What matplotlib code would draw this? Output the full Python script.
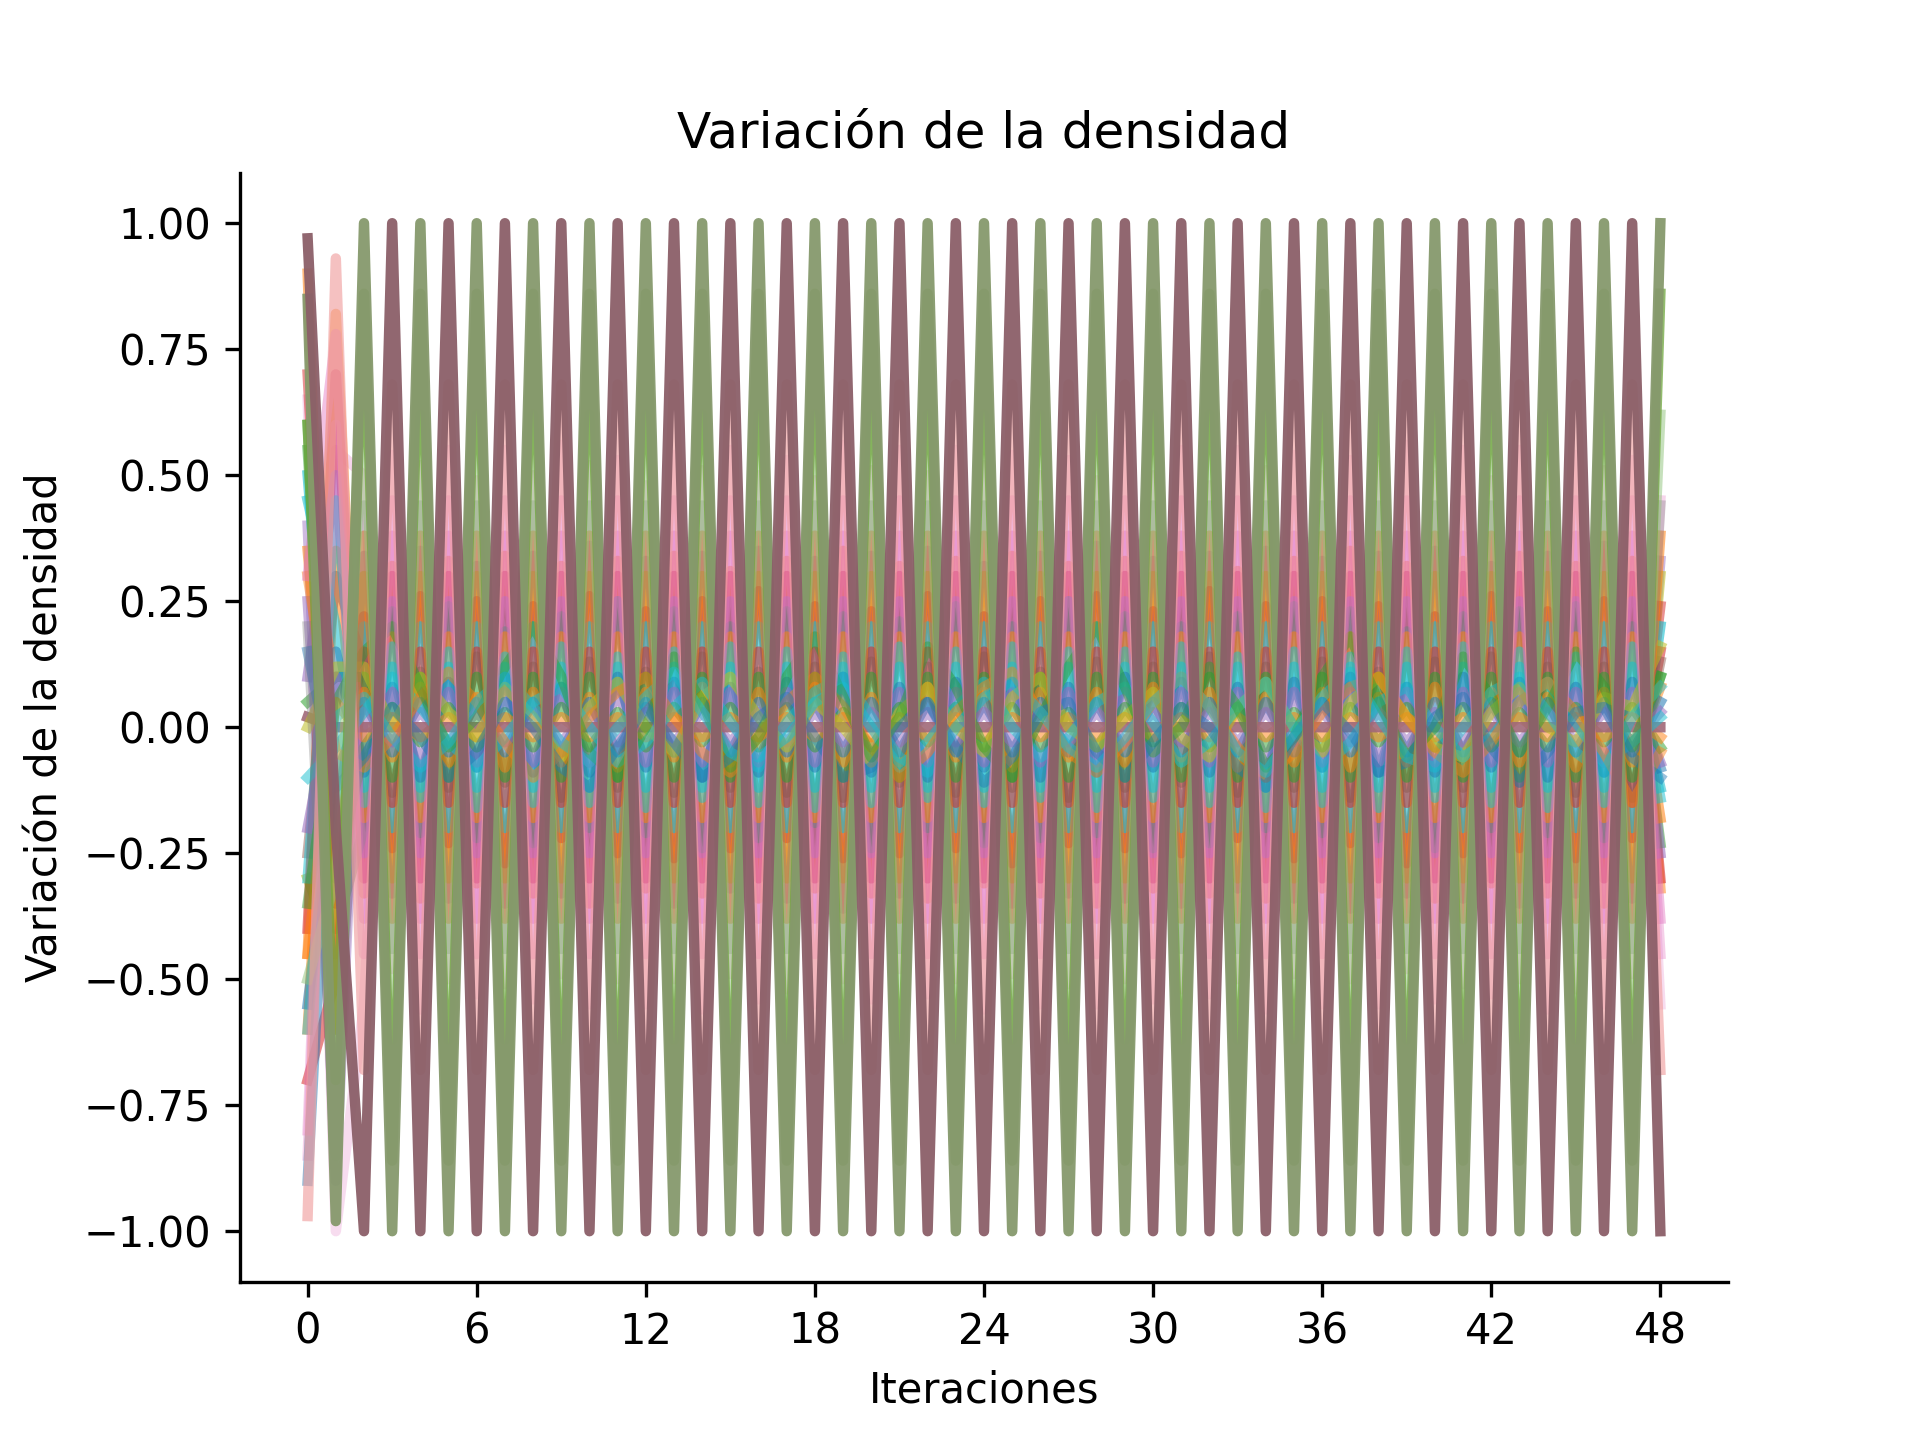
import matplotlib
matplotlib.use('Agg')
import matplotlib.pyplot as plt

iteraciones = list(range(49))

# oscilaciones en fase "par" (maximo en iteraciones pares)
par_100 = [0.85, -0.98, 1, -1, 1, -1, 1,
           -1, 1, -1, 1, -1, 1, -1,
           1, -1, 1, -1, 1, -1, 1,
           -1, 1, -1, 1, -1, 1, -1,
           1, -1, 1, -1, 1, -1, 1,
           -1, 1, -1, 1, -1, 1, -1,
           1, -1, 1, -1, 1, -1, 1]
par_086 = [0.6, -0.7, 0.86, -0.86, 0.86, -0.86, 0.86,
           -0.86, 0.86, -0.86, 0.86, -0.86, 0.86, -0.86,
           0.86, -0.86, 0.86, -0.86, 0.86, -0.86, 0.86,
           -0.86, 0.86, -0.86, 0.86, -0.86, 0.86, -0.86,
           0.86, -0.86, 0.86, -0.86, 0.86, -0.86, 0.86,
           -0.86, 0.86, -0.86, 0.86, -0.86, 0.86, -0.86,
           0.86, -0.86, 0.86, -0.86, 0.86, -0.86, 0.86]
par_062 = [-0.5, -0.3, 0.62, -0.62, 0.62, -0.62, 0.62,
           -0.62, 0.62, -0.62, 0.62, -0.62, 0.62, -0.62,
           0.62, -0.62, 0.62, -0.62, 0.62, -0.62, 0.62,
           -0.62, 0.62, -0.62, 0.62, -0.62, 0.62, -0.62,
           0.62, -0.62, 0.62, -0.62, 0.62, -0.62, 0.62,
           -0.62, 0.62, -0.62, 0.62, -0.62, 0.62, -0.62,
           0.62, -0.62, 0.62, -0.62, 0.62, -0.62, 0.62]
par_050 = [-0.85, 0.55, 0.5, -0.48, 0.52, -0.5, 0.49,
           -0.51, 0.5, -0.49, 0.52, -0.5, 0.48, -0.5,
           0.51, -0.49, 0.5, -0.52, 0.49, -0.5, 0.51,
           -0.48, 0.5, -0.5, 0.52, -0.49, 0.5, -0.51,
           0.49, -0.5, 0.5, -0.52, 0.48, -0.5, 0.51,
           -0.49, 0.5, -0.5, 0.52, -0.48, 0.5, -0.51,
           0.49, -0.5, 0.5, -0.52, 0.51, -0.49, 0.45]
par_044 = [0.2, -0.85, 0.44, -0.44, 0.44, -0.44, 0.44,
           -0.44, 0.44, -0.44, 0.44, -0.44, 0.44, -0.44,
           0.44, -0.44, 0.44, -0.44, 0.44, -0.44, 0.44,
           -0.44, 0.44, -0.44, 0.44, -0.44, 0.44, -0.44,
           0.44, -0.44, 0.44, -0.44, 0.44, -0.44, 0.44,
           -0.44, 0.44, -0.44, 0.44, -0.44, 0.44, -0.44,
           0.44, -0.44, 0.44, -0.44, 0.44, -0.44, 0.44]
par_038 = [0.9, -0.6, 0.38, -0.38, 0.38, -0.38, 0.38,
           -0.38, 0.38, -0.38, 0.38, -0.38, 0.38, -0.38,
           0.38, -0.38, 0.38, -0.38, 0.38, -0.38, 0.38,
           -0.38, 0.38, -0.38, 0.38, -0.38, 0.38, -0.38,
           0.38, -0.38, 0.38, -0.38, 0.38, -0.38, 0.38,
           -0.38, 0.38, -0.38, 0.38, -0.38, 0.38, -0.38,
           0.38, -0.38, 0.38, -0.38, 0.38, -0.38, 0.38]
par_034 = [0.4, -0.9, 0.34, -0.33, 0.35, -0.34, 0.32,
           -0.35, 0.34, -0.33, 0.36, -0.34, 0.33, -0.35,
           0.34, -0.32, 0.35, -0.34, 0.33, -0.36, 0.34,
           -0.33, 0.35, -0.34, 0.32, -0.35, 0.34, -0.33,
           0.36, -0.34, 0.33, -0.35, 0.34, -0.32, 0.35,
           -0.34, 0.33, -0.36, 0.34, -0.33, 0.35, -0.34,
           0.32, -0.35, 0.34, -0.33, 0.36, -0.34, 0.33]
par_030 = [-0.3, -0.45, 0.3, -0.3, 0.3, -0.3, 0.3,
           -0.3, 0.3, -0.3, 0.3, -0.3, 0.3, -0.3,
           0.3, -0.3, 0.3, -0.3, 0.3, -0.3, 0.3,
           -0.3, 0.3, -0.3, 0.3, -0.3, 0.3, -0.3,
           0.3, -0.3, 0.3, -0.3, 0.3, -0.3, 0.3,
           -0.3, 0.3, -0.3, 0.3, -0.3, 0.3, -0.3,
           0.3, -0.3, 0.3, -0.3, 0.3, -0.3, 0.3]
par_025 = [0.7, -0.35, 0.22, -0.24, 0.26, -0.23, 0.25,
           -0.27, 0.24, -0.22, 0.26, -0.25, 0.23, -0.26,
           0.25, -0.24, 0.27, -0.22, 0.24, -0.26, 0.23,
           -0.25, 0.26, -0.24, 0.22, -0.27, 0.25, -0.23,
           0.26, -0.24, 0.23, -0.25, 0.27, -0.22, 0.24,
           -0.26, 0.25, -0.23, 0.24, -0.27, 0.22, -0.25,
           0.26, -0.24, 0.23, -0.26, 0.25, -0.22, 0.24]
par_020 = [0.5, -0.2, 0.2, -0.2, 0.2, -0.2, 0.2,
           -0.2, 0.2, -0.2, 0.2, -0.2, 0.2, -0.2,
           0.2, -0.2, 0.2, -0.2, 0.2, -0.2, 0.2,
           -0.2, 0.2, -0.2, 0.2, -0.2, 0.2, -0.2,
           0.2, -0.2, 0.2, -0.2, 0.2, -0.2, 0.2,
           -0.2, 0.2, -0.2, 0.2, -0.2, 0.2, -0.2,
           0.2, -0.2, 0.2, -0.2, 0.2, -0.2, 0.2]
par_015 = [-0.7, -0.5, 0.15, -0.15, 0.15, -0.15, 0.15,
           -0.15, 0.15, -0.15, 0.15, -0.15, 0.15, -0.15,
           0.15, -0.15, 0.15, -0.15, 0.15, -0.15, 0.15,
           -0.15, 0.15, -0.15, 0.15, -0.15, 0.15, -0.15,
           0.15, -0.15, 0.15, -0.15, 0.15, -0.15, 0.15,
           -0.15, 0.15, -0.15, 0.15, -0.15, 0.15, -0.15,
           0.15, -0.15, 0.15, -0.15, 0.15, -0.15, 0.15]
par_012 = [-0.25, 0.3, 0.12, -0.13, 0.11, -0.12, 0.14,
           -0.11, 0.12, -0.14, 0.13, -0.12, 0.11, -0.13,
           0.14, -0.12, 0.11, -0.13, 0.12, -0.14, 0.13,
           -0.11, 0.12, -0.13, 0.14, -0.12, 0.11, -0.14,
           0.13, -0.12, 0.12, -0.11, 0.14, -0.13, 0.12,
           -0.12, 0.13, -0.14, 0.11, -0.12, 0.13, -0.12,
           0.14, -0.11, 0.12, -0.13, 0.12, -0.14, 0.13]
par_010 = [0.05, 0.1, 0.1, -0.1, 0.1, -0.1, 0.1,
           -0.1, 0.1, -0.1, 0.1, -0.1, 0.1, -0.1,
           0.1, -0.1, 0.1, -0.1, 0.1, -0.1, 0.1,
           -0.1, 0.1, -0.1, 0.1, -0.1, 0.1, -0.1,
           0.1, -0.1, 0.1, -0.1, 0.1, -0.1, 0.1,
           -0.1, 0.1, -0.1, 0.1, -0.1, 0.1, -0.1,
           0.1, -0.1, 0.1, -0.1, 0.1, -0.1, 0.1]
par_007 = [0.35, -0.25, 0.07, -0.06, 0.08, -0.07, 0.06,
           -0.08, 0.07, -0.07, 0.06, -0.08, 0.07, -0.06,
           0.08, -0.07, 0.07, -0.06, 0.08, -0.07, 0.06,
           -0.07, 0.08, -0.06, 0.07, -0.08, 0.07, -0.06,
           0.07, -0.07, 0.08, -0.06, 0.07, -0.08, 0.06,
           -0.07, 0.07, -0.08, 0.06, -0.07, 0.08, -0.06,
           0.07, -0.07, 0.06, -0.08, 0.07, -0.07, 0.08]
par_005 = [-0.55, -0.1, 0.05, -0.05, 0.05, -0.05, 0.05,
           -0.05, 0.05, -0.05, 0.05, -0.05, 0.05, -0.05,
           0.05, -0.05, 0.05, -0.05, 0.05, -0.05, 0.05,
           -0.05, 0.05, -0.05, 0.05, -0.05, 0.05, -0.05,
           0.05, -0.05, 0.05, -0.05, 0.05, -0.05, 0.05,
           -0.05, 0.05, -0.05, 0.05, -0.05, 0.05, -0.05,
           0.05, -0.05, 0.05, -0.05, 0.05, -0.05, 0.05]
par_003 = [0.25, -0.6, 0.03, -0.03, 0.03, -0.03, 0.03,
           -0.03, 0.03, -0.03, 0.03, -0.03, 0.03, -0.03,
           0.03, -0.03, 0.03, -0.03, 0.03, -0.03, 0.03,
           -0.03, 0.03, -0.03, 0.03, -0.03, 0.03, -0.03,
           0.03, -0.03, 0.03, -0.03, 0.03, -0.03, 0.03,
           -0.03, 0.03, -0.03, 0.03, -0.03, 0.03, -0.03,
           0.03, -0.03, 0.03, -0.03, 0.03, -0.03, 0.03]

# oscilaciones en fase "impar" (maximo en iteraciones impares)
impar_100 = [0.97, -0.2, -1, 1, -1, 1, -1,
             1, -1, 1, -1, 1, -1, 1,
             -1, 1, -1, 1, -1, 1, -1,
             1, -1, 1, -1, 1, -1, 1,
             -1, 1, -1, 1, -1, 1, -1,
             1, -1, 1, -1, 1, -1, 1,
             -1, 1, -1, 1, -1, 1, -1]
impar_068 = [-0.97, 0.93, -0.68, 0.68, -0.68, 0.68, -0.68,
             0.68, -0.68, 0.68, -0.68, 0.68, -0.68, 0.68,
             -0.68, 0.68, -0.68, 0.68, -0.68, 0.68, -0.68,
             0.68, -0.68, 0.68, -0.68, 0.68, -0.68, 0.68,
             -0.68, 0.68, -0.68, 0.68, -0.68, 0.68, -0.68,
             0.68, -0.68, 0.68, -0.68, 0.68, -0.68, 0.68,
             -0.68, 0.68, -0.68, 0.68, -0.68, 0.68, -0.68]
impar_055 = [0.65, -1.0, -0.55, 0.54, -0.56, 0.55, -0.53,
             0.55, -0.54, 0.56, -0.55, 0.53, -0.55, 0.54,
             -0.56, 0.55, -0.54, 0.53, -0.55, 0.56, -0.54,
             0.55, -0.53, 0.55, -0.56, 0.54, -0.55, 0.53,
             -0.55, 0.56, -0.54, 0.55, -0.53, 0.55, -0.56,
             0.54, -0.55, 0.53, -0.55, 0.56, -0.54, 0.55,
             -0.53, 0.55, -0.56, 0.54, -0.55, 0.53, -0.55]
impar_045 = [-0.8, 0.6, -0.45, 0.45, -0.45, 0.45, -0.45,
             0.45, -0.45, 0.45, -0.45, 0.45, -0.45, 0.45,
             -0.45, 0.45, -0.45, 0.45, -0.45, 0.45, -0.45,
             0.45, -0.45, 0.45, -0.45, 0.45, -0.45, 0.45,
             -0.45, 0.45, -0.45, 0.45, -0.45, 0.45, -0.45,
             0.45, -0.45, 0.45, -0.45, 0.45, -0.45, 0.45,
             -0.45, 0.45, -0.45, 0.45, -0.45, 0.45, -0.45]
impar_038 = [0.3, 0.78, -0.38, 0.38, -0.38, 0.38, -0.38,
             0.38, -0.38, 0.38, -0.38, 0.38, -0.38, 0.38,
             -0.38, 0.38, -0.38, 0.38, -0.38, 0.38, -0.38,
             0.38, -0.38, 0.38, -0.38, 0.38, -0.38, 0.38,
             -0.38, 0.38, -0.38, 0.38, -0.38, 0.38, -0.38,
             0.38, -0.38, 0.38, -0.38, 0.38, -0.38, 0.38,
             -0.38, 0.38, -0.38, 0.38, -0.38, 0.38, -0.38]
impar_033 = [-0.45, 0.82, -0.33, 0.32, -0.34, 0.33, -0.31,
             0.34, -0.33, 0.32, -0.35, 0.33, -0.32, 0.34,
             -0.33, 0.31, -0.34, 0.33, -0.32, 0.35, -0.33,
             0.32, -0.34, 0.33, -0.31, 0.34, -0.33, 0.32,
             -0.35, 0.33, -0.32, 0.34, -0.33, 0.31, -0.34,
             0.33, -0.32, 0.35, -0.33, 0.32, -0.34, 0.33,
             -0.31, 0.34, -0.33, 0.32, -0.35, 0.33, -0.32]
impar_030 = [-0.4, 0.7, -0.3, 0.3, -0.3, 0.3, -0.3,
             0.3, -0.3, 0.3, -0.3, 0.3, -0.3, 0.3,
             -0.3, 0.3, -0.3, 0.3, -0.3, 0.3, -0.3,
             0.3, -0.3, 0.3, -0.3, 0.3, -0.3, 0.3,
             -0.3, 0.3, -0.3, 0.3, -0.3, 0.3, -0.3,
             0.3, -0.3, 0.3, -0.3, 0.3, -0.3, 0.3,
             -0.3, 0.3, -0.3, 0.3, -0.3, 0.3, -0.3]
impar_025 = [0.1, 0.5, -0.25, 0.25, -0.25, 0.25, -0.25,
             0.25, -0.25, 0.25, -0.25, 0.25, -0.25, 0.25,
             -0.25, 0.25, -0.25, 0.25, -0.25, 0.25, -0.25,
             0.25, -0.25, 0.25, -0.25, 0.25, -0.25, 0.25,
             -0.25, 0.25, -0.25, 0.25, -0.25, 0.25, -0.25,
             0.25, -0.25, 0.25, -0.25, 0.25, -0.25, 0.25,
             -0.25, 0.25, -0.25, 0.25, -0.25, 0.25, -0.25]
impar_022 = [0.6, -0.4, -0.2, 0.23, -0.21, 0.24, -0.22,
             0.19, -0.23, 0.22, -0.2, 0.25, -0.21, 0.23,
             -0.24, 0.2, -0.22, 0.23, -0.19, 0.22, -0.24,
             0.21, -0.2, 0.24, -0.23, 0.2, -0.22, 0.25,
             -0.21, 0.22, -0.24, 0.2, -0.23, 0.22, -0.2,
             0.24, -0.21, 0.23, -0.22, 0.19, -0.24, 0.22,
             -0.2, 0.23, -0.21, 0.24, -0.22, 0.2, -0.23]
impar_018 = [-0.6, 0.35, -0.18, 0.18, -0.18, 0.18, -0.18,
             0.18, -0.18, 0.18, -0.18, 0.18, -0.18, 0.18,
             -0.18, 0.18, -0.18, 0.18, -0.18, 0.18, -0.18,
             0.18, -0.18, 0.18, -0.18, 0.18, -0.18, 0.18,
             -0.18, 0.18, -0.18, 0.18, -0.18, 0.18, -0.18,
             0.18, -0.18, 0.18, -0.18, 0.18, -0.18, 0.18,
             -0.18, 0.18, -0.18, 0.18, -0.18, 0.18, -0.18]
impar_015 = [-0.3, 0.45, -0.15, 0.16, -0.14, 0.15, -0.16,
             0.14, -0.15, 0.16, -0.15, 0.14, -0.16, 0.15,
             -0.14, 0.16, -0.15, 0.15, -0.16, 0.14, -0.15,
             0.16, -0.14, 0.15, -0.15, 0.16, -0.14, 0.15,
             -0.16, 0.15, -0.14, 0.16, -0.15, 0.14, -0.16,
             0.15, -0.15, 0.14, -0.16, 0.15, -0.14, 0.16,
             -0.15, 0.15, -0.16, 0.14, -0.15, 0.16, -0.14]
impar_012 = [0.45, 0.2, -0.12, 0.12, -0.12, 0.12, -0.12,
             0.12, -0.12, 0.12, -0.12, 0.12, -0.12, 0.12,
             -0.12, 0.12, -0.12, 0.12, -0.12, 0.12, -0.12,
             0.12, -0.12, 0.12, -0.12, 0.12, -0.12, 0.12,
             -0.12, 0.12, -0.12, 0.12, -0.12, 0.12, -0.12,
             0.12, -0.12, 0.12, -0.12, 0.12, -0.12, 0.12,
             -0.12, 0.12, -0.12, 0.12, -0.12, 0.12, -0.12]
impar_009 = [-0.9, 0.15, -0.09, 0.08, -0.1, 0.09, -0.08,
             0.1, -0.09, 0.08, -0.09, 0.1, -0.08, 0.09,
             -0.1, 0.08, -0.09, 0.09, -0.08, 0.1, -0.09,
             0.08, -0.1, 0.09, -0.08, 0.09, -0.1, 0.08,
             -0.09, 0.1, -0.08, 0.09, -0.09, 0.08, -0.1,
             0.09, -0.08, 0.1, -0.09, 0.08, -0.09, 0.1,
             -0.08, 0.09, -0.1, 0.08, -0.09, 0.09, -0.08]
impar_007 = [-0.2, 0.1, -0.07, 0.07, -0.07, 0.07, -0.07,
             0.07, -0.07, 0.07, -0.07, 0.07, -0.07, 0.07,
             -0.07, 0.07, -0.07, 0.07, -0.07, 0.07, -0.07,
             0.07, -0.07, 0.07, -0.07, 0.07, -0.07, 0.07,
             -0.07, 0.07, -0.07, 0.07, -0.07, 0.07, -0.07,
             0.07, -0.07, 0.07, -0.07, 0.07, -0.07, 0.07,
             -0.07, 0.07, -0.07, 0.07, -0.07, 0.07, -0.07]
impar_004 = [0.55, -0.3, -0.04, 0.04, -0.03, 0.04, -0.04,
             0.03, -0.04, 0.04, -0.04, 0.03, -0.04, 0.04,
             -0.03, 0.04, -0.04, 0.04, -0.04, 0.03, -0.04,
             0.04, -0.03, 0.04, -0.04, 0.04, -0.04, 0.03,
             -0.04, 0.04, -0.03, 0.04, -0.04, 0.04, -0.04,
             0.03, -0.04, 0.04, -0.03, 0.04, -0.04, 0.04,
             -0.04, 0.03, -0.04, 0.04, -0.03, 0.04, -0.04]
impar_002 = [-0.45, 0.05, -0.02, 0.02, -0.02, 0.02, -0.02,
             0.02, -0.02, 0.02, -0.02, 0.02, -0.02, 0.02,
             -0.02, 0.02, -0.02, 0.02, -0.02, 0.02, -0.02,
             0.02, -0.02, 0.02, -0.02, 0.02, -0.02, 0.02,
             -0.02, 0.02, -0.02, 0.02, -0.02, 0.02, -0.02,
             0.02, -0.02, 0.02, -0.02, 0.02, -0.02, 0.02,
             -0.02, 0.02, -0.02, 0.02, -0.02, 0.02, -0.02]

# celdas con variacion lenta (planeadores)
lenta_a = [0.0, 0.12, 0.12, 0.0, 0.1, 0.03, -0.02,
           0.08, 0.02, -0.06, 0.04, 0.09, 0.0, -0.05,
           0.06, 0.1, 0.02, -0.04, 0.05, 0.0, -0.07,
           0.03, 0.08, 0.0, -0.05, 0.06, 0.1, 0.0,
           -0.04, 0.02, 0.07, -0.02, -0.06, 0.04, 0.09,
           0.0, -0.05, 0.05, 0.1, 0.02, -0.04, -0.06,
           0.03, 0.08, 0.0, -0.03, 0.06, 0.04, 0.16]
lenta_b = [-0.1, -0.04, 0.03, 0.1, 0.04, -0.03, -0.08,
           -0.02, 0.05, 0.08, 0.0, -0.07, -0.03, 0.04,
           0.09, 0.01, -0.06, -0.02, 0.05, 0.08, 0.0,
           -0.08, -0.03, 0.04, 0.09, 0.0, -0.06, -0.02,
           0.05, 0.08, 0.01, -0.07, -0.03, 0.04, 0.09,
           0.0, -0.08, -0.03, 0.05, 0.08, 0.0, -0.06,
           -0.02, 0.05, 0.09, 0.01, -0.07, -0.03, 0.02]
lenta_c = [0.3, -0.05, -0.08, -0.02, 0.06, 0.11, 0.05,
           -0.03, -0.1, -0.05, 0.02, 0.07, 0.1, 0.02,
           -0.05, -0.09, -0.02, 0.05, 0.1, 0.04, -0.04,
           -0.1, -0.05, 0.03, 0.08, 0.11, 0.03, -0.05,
           -0.09, -0.03, 0.05, 0.1, 0.04, -0.04, -0.1,
           -0.05, 0.03, 0.08, 0.1, 0.02, -0.05, -0.09,
           -0.03, 0.05, 0.09, 0.03, -0.05, -0.15, -0.05]
lenta_d = [-0.35, 0.05, 0.15, 0.2, 0.08, -0.04, 0.02,
           0.12, 0.2, 0.1, -0.05, -0.1, 0.0, 0.14,
           0.05, -0.08, -0.02, 0.1, 0.18, 0.06, -0.06,
           0.02, 0.16, 0.08, -0.04, -0.1, 0.02, 0.12,
           0.2, 0.08, -0.05, 0.0, 0.12, 0.04, -0.08,
           -0.02, 0.1, 0.18, 0.05, -0.06, 0.0, 0.14,
           0.06, -0.05, 0.04, 0.15, 0.08, -0.04, 0.1]
lenta_e = [0.15, -0.12, -0.06, 0.04, -0.02, -0.1, -0.05,
           0.05, 0.0, -0.08, -0.12, -0.04, 0.04, -0.03,
           -0.1, -0.06, 0.02, 0.06, -0.02, -0.1, -0.08,
           0.0, 0.05, -0.04, -0.11, -0.06, 0.03, 0.05,
           -0.05, -0.1, -0.03, 0.04, 0.0, -0.08, -0.12,
           -0.02, 0.05, -0.01, -0.09, -0.07, 0.02, 0.06,
           -0.04, -0.11, -0.05, 0.03, 0.04, -0.06, -0.1]
lenta_f = [-0.6, 0.02, 0.06, -0.02, -0.08, -0.03, 0.05,
           0.1, 0.04, -0.03, -0.07, 0.0, 0.06, 0.11,
           0.03, -0.05, -0.08, 0.01, 0.07, 0.1, 0.02,
           -0.06, -0.09, 0.0, 0.06, 0.09, 0.03, -0.04,
           -0.08, -0.02, 0.05, 0.1, 0.04, -0.05, -0.09,
           -0.01, 0.06, 0.11, 0.02, -0.06, -0.08, 0.0,
           0.07, 0.1, 0.03, -0.05, -0.09, 0.02, 0.08]
constante = [0.02, 0.0, 0.0, 0.0, 0.0, 0.0, 0.0,
             0.0, 0.0, 0.0, 0.0, 0.0, 0.0, 0.0,
             0.0, 0.0, 0.0, 0.0, 0.0, 0.0, 0.0,
             0.0, 0.0, 0.0, 0.0, 0.0, 0.0, 0.0,
             0.0, 0.0, 0.0, 0.0, 0.0, 0.0, 0.0,
             0.0, 0.0, 0.0, 0.0, 0.0, 0.0, 0.0,
             0.0, 0.0, 0.0, 0.0, 0.0, 0.0, 0.0]

# (serie, color, alpha) en orden de dibujo
series = [
    (par_050, '#e377c2', 0.3), (impar_055, '#e377c2', 0.25),
    (par_034, '#9467bd', 0.45), (impar_033, '#ff7f0e', 0.5),
    (par_030, '#bcbd22', 0.55), (impar_030, '#d62728', 0.55),
    (par_025, '#d62728', 0.5), (impar_022, '#2ca02c', 0.5),
    (par_020, '#17becf', 0.6), (impar_025, '#9467bd', 0.55),
    (par_015, '#d62728', 0.55), (impar_018, '#ff7f0e', 0.55),
    (par_012, '#8c564b', 0.45), (impar_015, '#17becf', 0.5),
    (par_010, '#2ca02c', 0.55), (impar_012, '#17becf', 0.55),
    (par_007, '#ff7f0e', 0.5), (impar_009, '#1f77b4', 0.5),
    (par_005, '#1f77b4', 0.55), (impar_007, '#9467bd', 0.55),
    (par_003, '#9467bd', 0.5), (impar_004, '#2ca02c', 0.5),
    (impar_002, '#ff7f0e', 0.5),
    (constante, '#a06878', 0.9),
    (lenta_a, '#bcbd22', 0.55), (lenta_b, '#17becf', 0.5), (lenta_c, '#ff7f0e', 0.45),
    (lenta_d, '#2ca02c', 0.45), (lenta_e, '#1f77b4', 0.45), (lenta_f, '#17becf', 0.45),
    (impar_038, '#e377c2', 0.45), (par_038, '#ff7f0e', 0.55),
    (par_044, '#7f7f7f', 0.35), (impar_045, '#e377c2', 0.35),
    (par_062, '#8fc37a', 0.5), (impar_068, '#f0a0a0', 0.65),
    (par_086, '#6ea63c', 0.75), (par_100, '#86996c', 0.95),
    (impar_100, '#8b5f68', 0.95),
]

fig, ax = plt.subplots(figsize=(6.4, 4.8), dpi=300)
for valores, color, alpha in series:
    ax.plot(iteraciones, valores, color=color, alpha=alpha, lw=2.5)

ax.set_title('Variación de la densidad')
ax.set_xlabel('Iteraciones')
ax.set_ylabel('Variación de la densidad')
ax.set_xticks(range(0, 49, 6))
ax.set_ylim(-1.1, 1.1)
ax.spines['top'].set_visible(False)
ax.spines['right'].set_visible(False)
fig.savefig('out.png')
